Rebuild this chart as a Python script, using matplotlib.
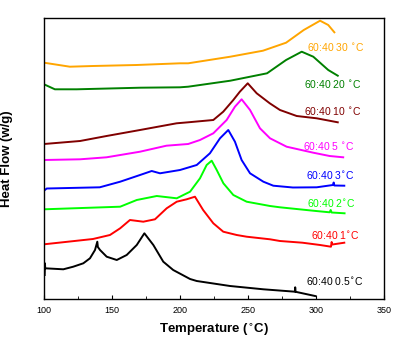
import matplotlib
matplotlib.use("Agg")
import matplotlib.pyplot as plt
from matplotlib.ticker import MultipleLocator

plt.rcParams['font.family'] = ['Liberation Sans', 'DejaVu Sans']

# curves: temperature (C) and heat flow (arbitrary units, stacked offsets)
t_30 = [100, 119, 136, 168, 200, 206, 237, 261, 278, 291, 303, 309, 313.5]
h_30 = [236.3, 232.3, 233, 234, 235.7, 235.7, 242.3, 248.3, 256.3, 269, 278.3, 274, 266.7]

t_20 = [100, 108, 124, 171, 200, 206, 237, 264, 278, 289.5, 298, 309, 316]
h_20 = [214.7, 209.7, 209.7, 211.3, 211.7, 212.3, 218.3, 225.7, 239, 247.3, 242.3, 229, 223.3]

t_10 = [100, 126.5, 146, 170.6, 197.5, 206, 224.5, 231.8, 239.2, 244, 249.8, 256.4, 266,
        273.5, 285.8, 300.5, 316]
h_10 = [155, 158, 163, 169, 175.7, 176.7, 179, 187.3, 199, 207.3, 215.7, 205.7, 195.7,
        189, 183, 180.7, 176.7]

t_5 = [100, 126.5, 146, 170.6, 190, 206, 214.7, 224.5, 234.3, 240.4, 245.3, 251.5, 258.8,
       266.2, 278.4, 298, 310, 320]
h_5 = [139, 139.7, 141.7, 147.3, 153.3, 155, 159, 165.7, 179, 192.3, 199.7, 189, 170.7,
       160.7, 152.3, 146.3, 143, 141.7]

t_3 = [100, 102, 141, 156, 170.6, 179.2, 185.3, 200, 212.3, 222, 229.4, 235.5, 240.4, 245.3,
       251.5, 261.3, 268.6, 283, 300.5, 312.5, 313, 313.5, 320.8]
h_3 = [108.3, 110.5, 111.7, 117.3, 124, 128, 125.7, 129, 134, 145.7, 160.7, 169, 157.3, 139,
       125.7, 117.3, 113.3, 111.5, 111.7, 114, 116.5, 113.5, 113.3]

t_2 = [100, 156, 168.2, 182.9, 197.6, 207.4, 214.7, 219.6, 223.3, 227, 231.9, 239.2, 249,
       266.2, 273.5, 300, 310, 310.8, 311.5, 321]
h_2 = [89.7, 92.3, 99, 103, 100.7, 107.3, 120.7, 134, 138.3, 129, 115.7, 104, 97.3,
       93, 91.7, 88, 86.7, 89, 86.5, 85.7]

t_1 = [100, 136, 148.5, 156, 163.2, 173, 181.6, 190.2, 197.6, 204.9, 211, 217, 224.5, 231.8,
       241.7, 249, 266.2, 273.5, 290, 303, 311, 311.5, 312, 320.8]
h_1 = [54.7, 60, 64, 70.7, 79, 77.3, 79.7, 90.7, 97.3, 99.7, 102.3, 89, 75.7, 67.3,
       64, 62.3, 59.7, 58, 56.3, 54, 52.3, 57, 54.5, 56.3]

t_05 = [100.5, 100.7, 100.9, 114.2, 121.5, 128.9, 133.8, 137.5, 139.2, 139.6, 141.2, 146.1,
        153.5, 160.8, 168.2, 173.8, 180.4, 187.7, 195, 207.4, 212.3, 236.8, 261.3,
        284.5, 284.7, 285, 299.3]
h_05 = [24, 35.7, 30.7, 29.7, 32.3, 35.7, 40.7, 49, 57.3, 52, 49, 42.3,
        39, 44, 54, 65.7, 54, 37.3, 29, 20, 18, 13, 9.7,
        7.3, 11.7, 7.2, 3]

series = [
    (t_30, h_30, '#FFA500', '60:40 30 $^{\\circ}$C', 293.4, 252),
    (t_20, h_20, '#008000', '60:40 20 $^{\\circ}$C', 291.2, 215),
    (t_10, h_10, '#800000', '60:40 10 $^{\\circ}$C', 291.2, 188),
    (t_5, h_5, '#FF00FF', '60:40 5 $^{\\circ}$C', 290.4, 153),
    (t_3, h_3, '#0000FF', '60:40 3$^{\\circ}$C', 292.6, 124),
    (t_2, h_2, '#00FF00', '60:40 2$^{\\circ}$C', 293.4, 96),
    (t_1, h_1, '#FF0000', '60:40 1$^{\\circ}$C', 296.3, 64),
    (t_05, h_05, '#000000', '60:40 0.5$^{\\circ}$C', 292.6, 18),
]

fig = plt.figure(figsize=(4.06, 3.45), dpi=100)
ax = fig.add_axes([44/406, 46/345, 340/406, 281/345])

for t, h, c, lab, tx, ty in series:
    ax.plot(t, h, color=c, lw=1.4)
    ax.text(tx, ty, lab, color=c, fontsize=7.5, va='center', ha='left')

ax.set_xlim(100, 350)
ax.set_ylim(0, 281)
ax.set_yticks([])
ax.xaxis.set_major_locator(MultipleLocator(50))
ax.xaxis.set_minor_locator(MultipleLocator(25))
ax.tick_params(axis='x', which='both', direction='in', labelsize=6.5, length=3, pad=5)
ax.tick_params(axis='x', which='minor', length=2)
for s in ax.spines.values():
    s.set_linewidth(1.0)

ax.set_xlabel('Temperature ($^{\\circ}$C)', fontsize=9.5, fontweight='bold', labelpad=5)
ax.set_ylabel('Heat Flow (w/g)', fontsize=9.5, fontweight='bold', labelpad=22)

fig.savefig('out.png', dpi=100)
